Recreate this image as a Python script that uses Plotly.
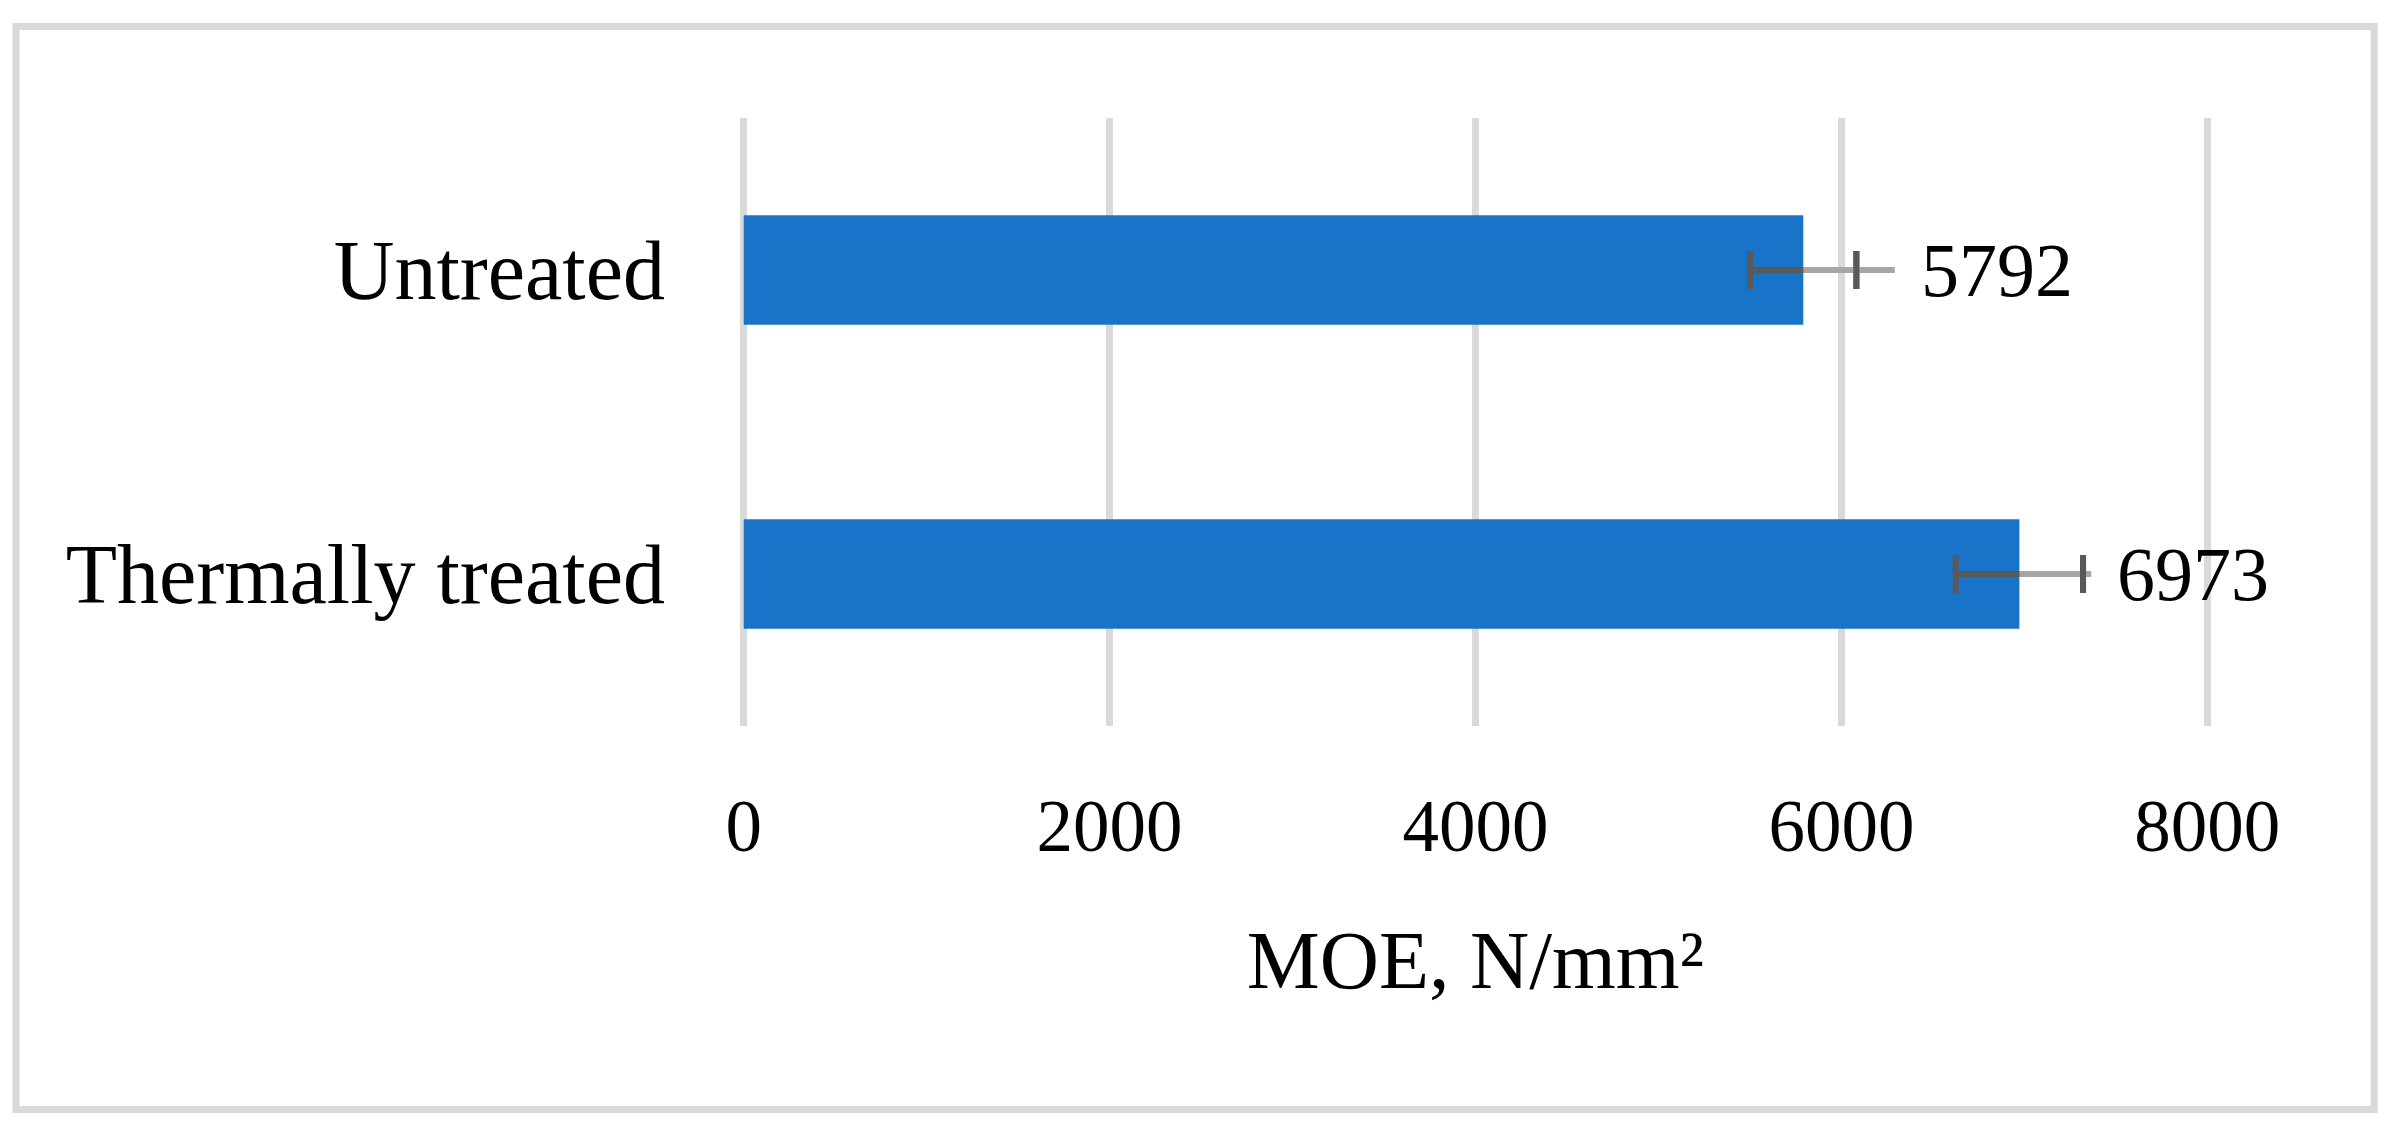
import plotly.graph_objects as go

# ---- data ----
categories = ["Untreated", "Thermally treated"]
moe_values = [5792, 6973]
error_dark = [290, 348]      # symmetric error bars (dark)
error_light = [500, 393]     # plus-side light grey extension
x_ticks = [0, 2000, 4000, 6000, 8000]
x_title = "MOE, N/mm²"

# ---- geometry / style ----
OFF = 8                      # page body margin of the html page
W, H = 2392 - 2 * OFF, 1137 - 2 * OFF
X0_REF, X1_REF = 743.5, 2207.5       # window px of x=0 and x=8000
K = (X1_REF - X0_REF) / 8000.0
PADU = 15                             # small range padding so end gridlines are drawn
L = X0_REF - OFF - PADU * K
PW = (8000 + 2 * PADU) * K
R = W - L - PW
T = 118 - OFF
PB = 726 - OFF
B = H - PB
PH = PB - T

FONT = "Liberation Serif"
BAR_COLOR = "#1874c9"
DARK = "#595959"
LIGHT = "#a6a6a6"
GRID = "#d9d9d9"

fig = go.Figure()

# bars with dark symmetric error bars
fig.add_trace(go.Bar(
    y=categories, x=moe_values, orientation="h", width=0.36,
    marker=dict(color=BAR_COLOR, line=dict(width=0)),
    error_x=dict(type="data", array=error_dark, symmetric=True,
                 color=DARK, thickness=6, width=19),
    hoverinfo="skip", showlegend=False,
))

# light grey plus-side extension line
fig.add_trace(go.Scatter(
    y=categories, x=moe_values, mode="markers",
    marker=dict(size=1, color="rgba(0,0,0,0)"),
    error_x=dict(type="data", array=error_light, arrayminus=[0] * len(categories),
                 symmetric=False, color=LIGHT, thickness=6, width=0),
    hoverinfo="skip", showlegend=False,
))

# dark cap on the plus side, re-drawn on top
fig.add_trace(go.Scatter(
    y=categories, x=[v + e for v, e in zip(moe_values, error_dark)], mode="markers",
    marker=dict(size=1, color="rgba(0,0,0,0)"),
    error_x=dict(type="data", array=[0] * len(categories), symmetric=True,
                 color=DARK, thickness=6, width=19),
    hoverinfo="skip", showlegend=False,
))

# data labels
for cat, v, e in zip(categories, moe_values, error_light):
    fig.add_annotation(
        x=v + e, y=cat, text=str(v), xanchor="left", yanchor="middle",
        xshift=24, showarrow=False,
        font=dict(family=FONT, size=76, color="black"),
    )

# outer frame
def px2paper_x(px):
    return (px - OFF - L) / PW

def px2paper_y(py):
    return (PB - (py - OFF)) / PH

fig.add_shape(
    type="rect", xref="paper", yref="paper",
    x0=px2paper_x(15.5), x1=px2paper_x(2374.5),
    y0=px2paper_y(1109.5), y1=px2paper_y(26.5),
    line=dict(color=GRID, width=7), fillcolor="rgba(0,0,0,0)", layer="below",
)

fig.update_layout(
    width=W, height=H,
    margin=dict(l=L, r=R, t=T, b=B, pad=0, autoexpand=False),
    paper_bgcolor="white", plot_bgcolor="white",
    font=dict(family=FONT, color="black"),
    showlegend=False,
    xaxis=dict(
        range=[-PADU, 8000 + PADU], tickmode="array", tickvals=x_ticks,
        ticktext=[str(t) for t in x_ticks],
        showgrid=True, gridcolor=GRID, gridwidth=7,
        zeroline=False, showline=False, ticks="",
        tickfont=dict(family=FONT, size=73, color="black"),
        ticklabelstandoff=51,
        title=dict(text=x_title, font=dict(family=FONT, size=82, color="black"),
                   standoff=64),
        fixedrange=True,
    ),
    yaxis=dict(
        type="category", categoryorder="array", categoryarray=categories,
        range=[1.5, -0.5],
        showgrid=False, zeroline=False, showline=False, ticks="",
        tickfont=dict(family=FONT, size=84, color="black"),
        ticklabelstandoff=75,
        fixedrange=True,
    ),
)

fig.write_html("out.html")
